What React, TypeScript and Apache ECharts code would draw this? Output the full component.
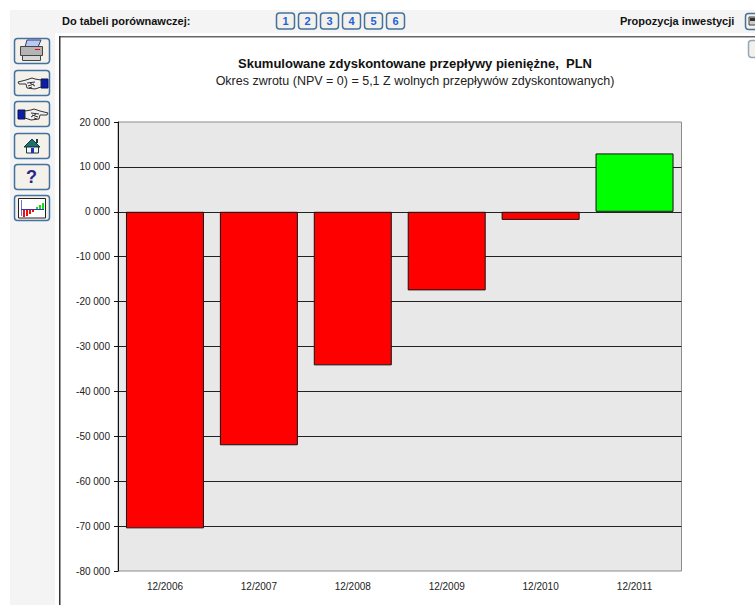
import React, { useEffect, useRef } from "react";
import * as echarts from "echarts";

const categories = ["12/2006", "12/2007", "12/2008", "12/2009", "12/2010", "12/2011"];
const cumulativeFlows = [-70500, -52000, -34200, -17500, -1800, 13000];
const compareButtons = ["1", "2", "3", "4", "5", "6"];
const titleText = "Skumulowane zdyskontowane przepływy pieniężne,  PLN";
const subtitleText = "Okres zwrotu (NPV = 0) = 5,1 Z wolnych przepływów zdyskontowanych)";
const compareLabel = "Do tabeli porównawczej:";
const proposalLabel = "Propozycja inwestycji";

const FONT = "'Liberation Sans', Arial, sans-serif";

const fmt = (v: number) => {
  const a = Math.abs(v);
  const th = Math.floor(a / 1000);
  return `${v < 0 ? "-" : ""}${th} 000`;
};

const btn = (x: number, y: number, w: number, h: number, stroke = "#44729e") => ({
  type: "rect",
  shape: { x: x + 0.5, y: y + 0.5, width: w, height: h, r: 3 },
  style: { fill: "#f3f1ea", stroke, lineWidth: 1.5 },
  silent: true,
});
const r = (x: number, y: number, w: number, h: number, fill: string, stroke?: string) => ({
  type: "rect",
  shape: { x, y, width: w, height: h },
  style: { fill, stroke: stroke ?? "none", lineWidth: 1 },
  silent: true,
});
const poly = (points: number[][], fill: string, stroke?: string) => ({
  type: "polygon",
  shape: { points },
  style: { fill, stroke: stroke ?? "none", lineWidth: 1 },
  silent: true,
});
const seg = (x1: number, y1: number, x2: number, y2: number, stroke: string) => ({
  type: "line",
  shape: { x1, y1, x2, y2 },
  style: { stroke, lineWidth: 1 },
  silent: true,
});
const txt = (x: number, y: number, text: string, font: string, fill: string, align = "left") => ({
  type: "text",
  x,
  y,
  style: { text, font, fill, textAlign: align, textVerticalAlign: "middle" },
  silent: true,
});

// Pointing hand drawn in a 0..30 box with the cuff on the left; flip mirrors it.
const hand = (x: number, y: number, flip: boolean) => {
  const px = (v: number) => (flip ? x + 30 - v : x + v);
  const ln = (a: number, b: number, c: number, d: number) => seg(px(a), y + b, px(c), y + d, "#333333");
  return [
    r(flip ? x + 23 : x, y + 1, 7, 9, "#0a1ea8", "#0a1050"),
    poly(
      [[7, 2], [13, 1], [16, 0], [22, 2], [30, 4], [29, 6], [22, 6], [21, 10], [13, 11], [7, 9]].map(([a, b]) => [px(a), y + b]),
      "#efefef",
      "#333333",
    ),
    ln(13, 4, 21, 5),
    ln(14, 6, 20, 8),
    ln(13, 8, 18, 5),
    ln(16, 9, 19, 10),
  ];
};

const chromeElements = (): any[] => [
  r(10, 10, 745, 23, "#f4f4f4"),
  r(10, 33, 45, 572, "#f4f4f4"),
  r(59, 36, 696, 1.5, "#666666"),
  r(59, 36, 1.5, 569, "#333333"),
  txt(62, 20.5, compareLabel, `bold 11px ${FONT}`, "#111111"),
  txt(620, 20.5, proposalLabel, `bold 11px ${FONT}`, "#111111"),
  ...compareButtons.flatMap((b, i) => [
    btn(276 + i * 22, 12.5, 18, 16),
    txt(285.5 + i * 22, 21, b, `bold 11px ${FONT}`, "#1a62e0", "center"),
  ]),
  btn(745, 13, 14, 16),
  r(749, 17, 8, 8, "#cccccc", "#444444"),
  r(750, 18, 7, 3, "#333333"),
  btn(748, 40, 12, 17, "#8fa9bf"),
  // printer
  btn(14, 38, 35, 25),
  poly([[27, 40], [41, 40], [38, 47], [25, 47]], "#b9c8f5", "#3a3a6a"),
  r(20.5, 46.5, 22, 9, "#b4b4b4", "#444444"),
  r(22.5, 55.5, 18, 5, "#d6d6d6", "#444444"),
  r(35, 49, 5, 1, "#e01010"),
  // hands
  btn(14, 70, 35, 25),
  ...hand(18, 78, true),
  btn(14, 101, 35, 25),
  ...hand(18, 109, false),
  // home
  btn(14, 133, 35, 25),
  poly([[32, 139], [40, 147], [24, 147]], "#1f6f70", "#143c3c"),
  r(36, 139, 2, 4, "#143c3c"),
  r(26.5, 147, 12, 6, "#f5f5f5", "#143c3c"),
  r(31, 148, 3, 5, "#2030c0"),
  // help
  btn(14, 164, 35, 25),
  txt(31.5, 177, "?", `bold 18px ${FONT}`, "#26268f", "center"),
  // chart button
  btn(14, 195, 35, 25),
  r(18.5, 198.5, 27, 19.5, "#ffffff", "#222222"),
  r(21, 200, 1, 16, "#7070e0"),
  r(21, 209, 23, 1, "#3030c0"),
  ...[[23, 7], [26, 6], [29, 4], [32, 2]].map(([x, h]) => r(x, 210, 2, h, "#ee1010")),
  ...[[36, 2], [39, 4], [42, 6]].map(([x, h]) => r(x, 209 - h, 2, h, "#10dd10")),
];

export default function App() {
  const ref = useRef<HTMLDivElement>(null);
  useEffect(() => {
    const chart = echarts.init(ref.current!, undefined, { renderer: "svg" });
    chart.setOption({
      animation: false,
      backgroundColor: "#ffffff",
      textStyle: { fontFamily: FONT },
      title: {
        text: titleText,
        subtext: subtitleText,
        left: 410,
        top: 51,
        textAlign: "center",
        itemGap: 3,
        textStyle: { fontFamily: FONT, fontSize: 13, fontWeight: "bold", color: "#111111", lineHeight: 15 },
        subtextStyle: { fontFamily: FONT, fontSize: 12.5, color: "#222222", lineHeight: 14 },
      },
      grid: {
        left: 118,
        top: 122,
        width: 563.5,
        height: 449,
        show: true,
        backgroundColor: "#e8e8e8",
        borderColor: "#8c8c8c",
        borderWidth: 1,
      },
      xAxis: {
        type: "category",
        data: categories,
        position: "bottom",
        axisLine: { show: false },
        axisTick: { show: false },
        axisLabel: { fontSize: 10, color: "#222222", margin: 10, fontFamily: FONT },
      },
      yAxis: {
        type: "value",
        min: -80000,
        max: 20000,
        interval: 10000,
        axisLine: { show: true, lineStyle: { color: "#111111", width: 1 } },
        axisTick: { show: true, length: 4, lineStyle: { color: "#111111" } },
        axisLabel: { fontSize: 10, color: "#222222", margin: 8, formatter: fmt, fontFamily: FONT },
        splitLine: { show: true, showMinLine: false, showMaxLine: false, lineStyle: { color: "#222222", width: 1 } },
      },
      series: [
        {
          type: "bar",
          data: cumulativeFlows,
          barWidth: 78,
          itemStyle: {
            color: (p: any) => (p.value < 0 ? "#ff0000" : "#00ff00"),
            borderColor: "#111111",
            borderWidth: 1,
          },
          silent: true,
        },
      ],
      graphic: { elements: chromeElements() },
    });
    return () => chart.dispose();
  }, []);
  return <div ref={ref} style={{ position: "fixed", left: 0, top: 0, width: 755, height: 605 }} />;
}
